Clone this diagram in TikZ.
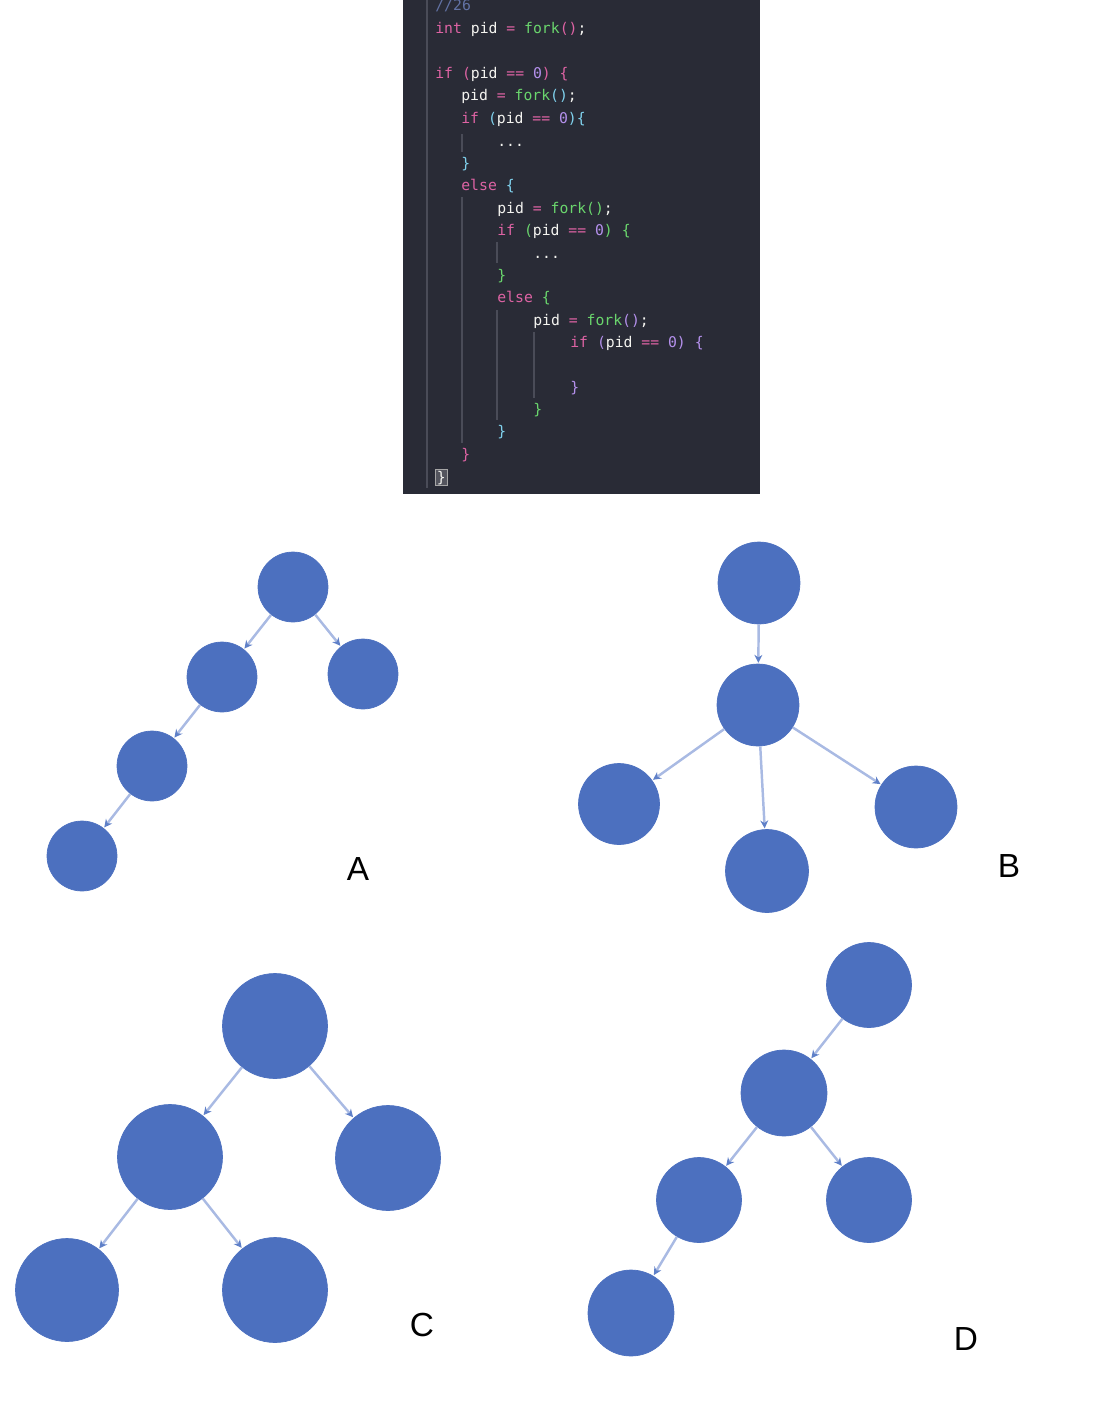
\documentclass[tikz,border=0pt]{standalone}
\usepackage{fontspec}
\usepackage{xcolor}
\usepackage{tikz}
\usetikzlibrary{arrows.meta}
\setmainfont{Liberation Sans}
\newfontfamily\codefont{DejaVu Sans Mono}
\definecolor{codebg}{HTML}{292B36}
\definecolor{codetext}{HTML}{F4F4F0}
\definecolor{codepink}{HTML}{DE63A4}
\definecolor{codegreen}{HTML}{6AD66D}
\definecolor{codepurple}{HTML}{B490EC}
\definecolor{codecyan}{HTML}{80D2EE}
\definecolor{codecmt}{HTML}{6272A4}
\definecolor{codeguide}{HTML}{4A4C58}
\definecolor{procblue}{HTML}{4C70BF}
\definecolor{forkline}{HTML}{A9BAE3}
\definecolor{forktip}{HTML}{5F80C8}
\newcommand{\ckw}[1]{\textcolor{codepink}{#1}}
\newcommand{\cfn}[1]{\textcolor{codegreen}{#1}}
\newcommand{\cnum}[1]{\textcolor{codepurple}{#1}}
\newcommand{\ccy}[1]{\textcolor{codecyan}{#1}}

\begin{document}
\begin{tikzpicture}[x=0.02cm,y=-0.02cm,
  proc/.style={circle,fill=procblue,draw=procblue,inner sep=0pt},
  forkarrow/.style={draw=forkline,line width=1.4pt,-{Stealth[length=4.5pt,width=4.5pt,color=forktip]},shorten >=0.5pt},
  code/.style={anchor=base west,inner sep=0pt,font=\codefont\fontsize{8.4}{10}\selectfont,text=codetext},
  guide/.style={draw=codeguide,line width=0.6pt},
  tag/.style={font=\fontsize{19}{22}\selectfont}]
\useasboundingbox (0,0) rectangle (1118,1404);

% code panel
\begin{scope}
\clip (0,0) rectangle (1118,1404);
\fill[codebg] (403,-20) rectangle (760,494);
\draw[guide] (427,-20) -- (427,488);
\draw[guide] (462,134) -- (462,152);
\draw[guide] (462,197) -- (462,443);
\draw[guide] (497,242) -- (497,263);
\draw[guide] (497,310) -- (497,420);
\draw[guide] (534,332) -- (534,398);
\node[code,text=codecmt] (l1) at (435,10) {//26};
\node[code] (l2) at (435,33) {\ckw{int} pid \ckw{=} \cfn{fork}\ckw{()};};
\node[code] (l3) at (435,78) {\ckw{if (}pid \ckw{==} \cnum{0}\ckw{) \{}};
\node[code] (l4) at (461,100) {pid \ckw{=} \cfn{fork}\ccy{()};};
\node[code] (l5) at (461,123) {\ckw{if} \ccy{(}pid \ckw{==} \cnum{0}\ccy{)\{}};
\node[code] (l6) at (497,146) {...};
\node[code] (l7) at (461,168) {\ccy{\}}};
\node[code] (l8) at (461,190) {\ckw{else} \ccy{\{}};
\node[code] (l9) at (497,213) {pid \ckw{=} \cfn{fork}\cfn{()};};
\node[code] (l10) at (497,235) {\ckw{if} \cfn{(}pid \ckw{==} \cnum{0}\cfn{)} \cfn{\{}};
\node[code] (l11) at (533,258) {...};
\node[code] (l12) at (497,280) {\cfn{\}}};
\node[code] (l13) at (497,302) {\ckw{else} \cfn{\{}};
\node[code] (l14) at (533,325) {pid \ckw{=} \cfn{fork}\cnum{()};};
\node[code] (l15) at (570,347) {\ckw{if} \cnum{(}pid \ckw{==} \cnum{0}\cnum{)} \cnum{\{}};
\node[code] (l16) at (570,392) {\cnum{\}}};
\node[code] (l17) at (533,414) {\cfn{\}}};
\node[code] (l18) at (497,436) {\ccy{\}}};
\node[code] (l19) at (461,459) {\ckw{\}}};
\node[code,draw=gray!70,fill=codebg!80!white,inner sep=0.8pt] (l20) at (435,482) {\}};
\end{scope}

% tree A
\node[proc,minimum size=1.4cm] (a1) at (293,587) {};
\node[proc,minimum size=1.4cm] (a2) at (222,677) {};
\node[proc,minimum size=1.4cm] (a3) at (363,674) {};
\node[proc,minimum size=1.4cm] (a4) at (152,766) {};
\node[proc,minimum size=1.4cm] (a5) at (82,856) {};
\draw[forkarrow] (a1) -- (a2);
\draw[forkarrow] (a1) -- (a3);
\draw[forkarrow] (a2) -- (a4);
\draw[forkarrow] (a4) -- (a5);
\node[tag] (la) at (358,869) {A};

% tree B
\node[proc,minimum size=1.64cm] (b1) at (759,583) {};
\node[proc,minimum size=1.64cm] (b2) at (758,705) {};
\node[proc,minimum size=1.62cm] (b3) at (619,804) {};
\node[proc,minimum size=1.66cm] (b4) at (767,871) {};
\node[proc,minimum size=1.64cm] (b5) at (916,807) {};
\draw[forkarrow] (b1) -- (b2);
\draw[forkarrow] (b2) -- (b3);
\draw[forkarrow] (b2) -- (b4);
\draw[forkarrow] (b2) -- (b5);
\node[tag] (lb) at (1009,866) {B};

% tree C
\node[proc,minimum size=2.1cm] (c1) at (275,1026) {};
\node[proc,minimum size=2.1cm] (c2) at (170,1157) {};
\node[proc,minimum size=2.1cm] (c3) at (388,1158) {};
\node[proc,minimum size=2.06cm] (c4) at (67,1290) {};
\node[proc,minimum size=2.1cm] (c5) at (275,1290) {};
\draw[forkarrow] (c1) -- (c2);
\draw[forkarrow] (c1) -- (c3);
\draw[forkarrow] (c2) -- (c4);
\draw[forkarrow] (c2) -- (c5);
\node[tag] (lc) at (422,1325) {C};

% tree D
\node[proc,minimum size=1.7cm] (d1) at (869,985) {};
\node[proc,minimum size=1.72cm] (d2) at (784,1093) {};
\node[proc,minimum size=1.7cm] (d3) at (699,1200) {};
\node[proc,minimum size=1.7cm] (d4) at (869,1200) {};
\node[proc,minimum size=1.72cm] (d5) at (631,1313) {};
\draw[forkarrow] (d1) -- (d2);
\draw[forkarrow] (d2) -- (d3);
\draw[forkarrow] (d2) -- (d4);
\draw[forkarrow] (d3) -- (d5);
\node[tag] (ld) at (966,1339) {D};
\end{tikzpicture}
\end{document}
